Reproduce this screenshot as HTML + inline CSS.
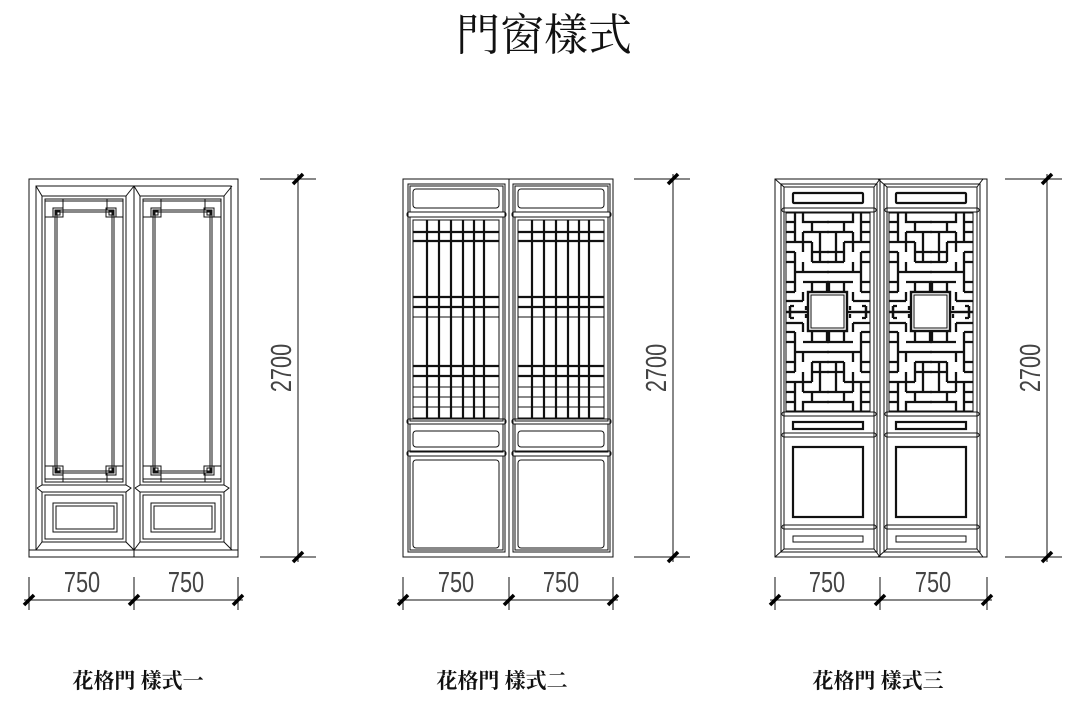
<!DOCTYPE html>
<html><head><meta charset="utf-8"><style>
html,body{margin:0;padding:0;background:#fff;}
svg{display:block;}
.t{font-family:"Liberation Serif","Noto Serif CJK SC","Noto Sans CJK TC",serif;fill:#111;}
.d{font-family:"Liberation Sans",sans-serif;fill:#444;font-weight:normal;}
</style></head><body>
<svg width="1084" height="716" viewBox="0 0 1084 716" xmlns="http://www.w3.org/2000/svg">
<defs>
 <g id="tick"><line x1="-5" y1="5" x2="5" y2="-5" stroke="#000" stroke-width="3.5"/></g>
 <g id="leaf1" fill="none" stroke="#111" stroke-width="1">
  <rect x="42" y="196" width="84" height="289"/>
  <rect x="45" y="199" width="78" height="283"/>
  <rect x="55" y="210" width="59" height="263"/>
  <rect x="57" y="212" width="55" height="259"/>
  <line x1="45" y1="201" x2="123" y2="201"/>
  <line x1="45" y1="217" x2="55" y2="217"/><line x1="114" y1="217" x2="123" y2="217"/>
  <line x1="63" y1="199" x2="63" y2="210"/><line x1="107" y1="199" x2="107" y2="210"/>
  <rect x="53" y="208" width="10" height="9"/><rect x="56" y="211" width="4" height="4"/>
  <rect x="106" y="208" width="10" height="9"/><rect x="109" y="211" width="4" height="4"/>
  <line x1="45" y1="479" x2="123" y2="479"/>
  <line x1="45" y1="466" x2="55" y2="466"/><line x1="114" y1="466" x2="123" y2="466"/>
  <line x1="63" y1="473" x2="63" y2="482"/><line x1="107" y1="473" x2="107" y2="482"/>
  <rect x="53" y="466" width="10" height="9"/><rect x="56" y="468" width="4" height="4"/>
  <rect x="106" y="466" width="10" height="9"/><rect x="109" y="468" width="4" height="4"/>
  <rect x="42" y="492" width="84" height="50"/>
  <rect x="45" y="495" width="78" height="44"/>
  <rect x="53" y="503" width="64" height="29"/>
  <rect x="56" y="506" width="58" height="23"/>
  <polyline points="37,488 42,485 126,485 131,488 126,492 42,492 37,488"/>
  <line x1="36" y1="186" x2="42" y2="196"/><line x1="134" y1="186" x2="126" y2="196"/>
  <line x1="36" y1="550" x2="42" y2="542"/><line x1="134" y1="550" x2="126" y2="542"/>
 </g>
 <g id="leaf2" fill="none" stroke="#111" stroke-width="1">
  <rect x="408" y="184" width="97" height="368"/>
  <rect x="410" y="186" width="93" height="26"/>
  <rect x="413" y="189" width="86" height="19" rx="3"/>
  <rect x="407" y="212" width="99" height="5" rx="2"/>
  <rect x="410" y="217" width="93" height="204"/>
  <rect x="413" y="220" width="86" height="198"/>
  <g stroke-width="2.2">
   <line x1="427" y1="220" x2="427" y2="418"/><line x1="439" y1="220" x2="439" y2="418"/>
   <line x1="451" y1="220" x2="451" y2="418"/><line x1="463" y1="220" x2="463" y2="418"/>
   <line x1="474" y1="220" x2="474" y2="418"/><line x1="484" y1="220" x2="484" y2="418"/>
   <line x1="413" y1="232" x2="499" y2="232"/><line x1="413" y1="241" x2="499" y2="241"/>
   <line x1="413" y1="297" x2="499" y2="297"/><line x1="413" y1="307" x2="499" y2="307"/>
   <line x1="413" y1="366" x2="499" y2="366"/><line x1="413" y1="376" x2="499" y2="376"/>
  </g>
  <line x1="413" y1="317" x2="499" y2="317"/>
  <line x1="413" y1="387" x2="499" y2="387"/><line x1="413" y1="397" x2="499" y2="397"/><line x1="413" y1="407" x2="499" y2="407"/>
  <rect x="407" y="419" width="99" height="5" rx="2"/>
  <rect x="410" y="424" width="93" height="28"/>
  <rect x="413" y="431" width="86" height="16" rx="3"/>
  <rect x="407" y="451" width="99" height="5" rx="2"/>
  <rect x="410" y="456" width="93" height="94"/>
  <rect x="413" y="460" width="86" height="88" rx="3"/>
 </g>
 <g id="q" fill="none" stroke="#111" stroke-width="2.3">
  <path d="M9 0V29 M17 0V9 H43 M0 9H9 M0 19H9 M26 9V19 M17 19H43 M17 19V39 M34 19V39 H43 M0 29H26 M26 29V49 M0 39H9 M26 39H34 M9 39V59 M26 49H43 M0 49H9 M17 49V59 M9 59H43 M34 39V49 M0 69H9 M9 59V79 M26 69V79 M17 69H43 M43 69V79 M0 79H9 M17 79V88 M0 88H17"/>
  <path d="M0 99H22 M4 93V105 M4 93H8 M20 93V97"/>
 </g>
 <g id="fret">
  <use href="#q"/>
  <use href="#q" transform="translate(84,0) scale(-1,1)"/>
  <use href="#q" transform="translate(0,198) scale(1,-1)"/>
  <use href="#q" transform="translate(84,198) scale(-1,-1)"/>
 </g>
 <g id="leaf3" fill="none" stroke="#111" stroke-width="1">
  <rect x="781" y="184" width="96" height="368"/>
  <rect x="784" y="187" width="90" height="362"/>
  <line x1="775" y1="179" x2="784" y2="187"/><line x1="880" y1="179" x2="874" y2="187"/>
  <line x1="775" y1="557" x2="784" y2="549"/><line x1="880" y1="557" x2="874" y2="549"/>
  <rect x="793" y="193" width="70" height="10" stroke-width="2.2" rx="1"/>
  <rect x="782" y="208" width="94" height="4" rx="2"/>
  <rect x="786" y="213" width="84" height="198"/>
  <g transform="translate(786,213)"><use href="#fret"/></g>
  <rect x="808" y="292" width="39" height="39" fill="#fff" stroke-width="2.4"/>
  <rect x="811" y="295" width="33" height="33"/>
  <rect x="782" y="412" width="94" height="4" rx="2"/>
  <rect x="793" y="422" width="70" height="7" stroke-width="2.2"/>
  <rect x="782" y="433" width="94" height="4" rx="2"/>
  <rect x="793" y="447" width="70" height="70" stroke-width="2.2"/>
  <rect x="782" y="525" width="94" height="4" rx="2"/>
  <rect x="793" y="536" width="70" height="6"/>
 </g>
</defs>

<text class="t" x="544" y="50" font-size="44" text-anchor="middle">門窗樣式</text>

<g fill="none" stroke="#111" stroke-width="1">
 <rect x="29" y="179" width="209" height="378"/>
 <rect x="36" y="186" width="195" height="364"/>
 <line x1="134" y1="186" x2="134" y2="557"/>
 <line x1="29" y1="550" x2="238" y2="550"/>
</g>
<use href="#leaf1"/>
<use href="#leaf1" transform="translate(98,0)"/>

<g fill="none" stroke="#111" stroke-width="1">
 <rect x="403" y="179" width="210" height="378"/>
 <line x1="509" y1="179" x2="509" y2="557"/>
</g>
<use href="#leaf2"/>
<use href="#leaf2" transform="translate(105,0)"/>

<g fill="none" stroke="#111" stroke-width="1">
 <rect x="775" y="179" width="212" height="378"/>
 <line x1="880" y1="179" x2="880" y2="557"/>
</g>
<use href="#leaf3"/>
<use href="#leaf3" transform="translate(103,0)"/>

<g stroke="#111" stroke-width="1" fill="none">
 <line x1="260" y1="179" x2="316" y2="179"/><line x1="260" y1="557" x2="316" y2="557"/><line x1="298" y1="174" x2="298" y2="562"/>
 <line x1="634" y1="179" x2="690" y2="179"/><line x1="634" y1="557" x2="690" y2="557"/><line x1="673" y1="174" x2="673" y2="562"/>
 <line x1="1005" y1="179" x2="1062" y2="179"/><line x1="1005" y1="557" x2="1062" y2="557"/><line x1="1047" y1="174" x2="1047" y2="562"/>
 <line x1="24" y1="600" x2="243" y2="600"/><line x1="29" y1="577" x2="29" y2="610"/><line x1="134" y1="577" x2="134" y2="610"/><line x1="238" y1="577" x2="238" y2="610"/>
 <line x1="398" y1="600" x2="618" y2="600"/><line x1="403" y1="577" x2="403" y2="610"/><line x1="509" y1="577" x2="509" y2="610"/><line x1="613" y1="577" x2="613" y2="610"/>
 <line x1="770" y1="600" x2="992" y2="600"/><line x1="775" y1="577" x2="775" y2="610"/><line x1="880" y1="577" x2="880" y2="610"/><line x1="987" y1="577" x2="987" y2="610"/>
</g>
<use href="#tick" x="298" y="179"/><use href="#tick" x="298" y="557"/>
<use href="#tick" x="673" y="179"/><use href="#tick" x="673" y="557"/>
<use href="#tick" x="1047" y="179"/><use href="#tick" x="1047" y="557"/>
<use href="#tick" x="29" y="600"/><use href="#tick" x="134" y="600"/><use href="#tick" x="238" y="600"/>
<use href="#tick" x="403" y="600"/><use href="#tick" x="509" y="600"/><use href="#tick" x="613" y="600"/>
<use href="#tick" x="775" y="600"/><use href="#tick" x="880" y="600"/><use href="#tick" x="987" y="600"/>

<g class="d" font-size="29" text-anchor="middle">
 <text transform="translate(82,592) scale(0.75,1)">750</text>
 <text transform="translate(186,592) scale(0.75,1)">750</text>
 <text transform="translate(456,592) scale(0.75,1)">750</text>
 <text transform="translate(561,592) scale(0.75,1)">750</text>
 <text transform="translate(827,592) scale(0.75,1)">750</text>
 <text transform="translate(933,592) scale(0.75,1)">750</text>
 <text transform="translate(291,368) rotate(-90) scale(0.75,1)">2700</text>
 <text transform="translate(666,368) rotate(-90) scale(0.75,1)">2700</text>
 <text transform="translate(1040,368) rotate(-90) scale(0.75,1)">2700</text>
</g>

<g class="t" font-size="21" font-weight="bold" text-anchor="middle">
 <text x="138" y="688">花格門 樣式一</text>
 <text x="502" y="688">花格門 樣式二</text>
 <text x="878" y="688">花格門 樣式三</text>
</g>
</svg>
</body></html>
